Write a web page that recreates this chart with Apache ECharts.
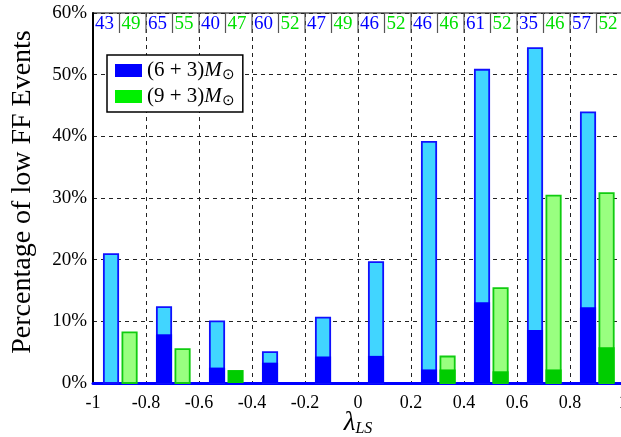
<!DOCTYPE html>
<html>
<head>
<meta charset="utf-8">
<script src="https://cdn.jsdelivr.net/npm/echarts@6/dist/echarts.min.js"></script>
<style>
  html, body { margin: 0; padding: 0; background: #fff; }
  #chart { width: 621px; height: 437px; }
</style>
</head>
<body>
<div id="chart"></div>
<script>
// left edge of each lambda bin
const binStarts = [-1, -0.8, -0.6, -0.4, -0.2, 0, 0.2, 0.4, 0.6, 0.8]
// percentages, full bar (light) and low part (dark)
const blueTotal = [20.9, 12.3, 10.0, 5.0, 10.6, 19.6, 39.1, 50.8, 54.3, 43.9]
const blueDark = [0, 7.9, 2.5, 3.3, 4.3, 4.4, 2.2, 13.1, 8.6, 12.3]
const greenTotal = [8.2, 5.5, 2.1, 0, 0, 0, 4.3, 15.4, 30.4, 30.8]
const greenDark = [0, 0, 2.1, 0, 0, 0, 2.2, 1.9, 2.2, 5.8]
// event counts printed along the top
const blueCounts = [43, 65, 40, 60, 47, 46, 46, 61, 35, 57]
const greenCounts = [49, 55, 47, 52, 49, 52, 46, 52, 46, 52]
const yTicks = [0, 10, 20, 30, 40, 50, 60]

const SERIF = '"Liberation Serif", "Times New Roman", serif'
const BAR_W = 0.054

function barRenderer(light, dark, stroke, offset) {
  return (params, api) => {
    const x = api.value(0) + offset
    const tot = api.value(1)
    const inn = api.value(2)
    const w = api.size([BAR_W, 0])[0]
    const base = api.coord([x, 0])
    const top = api.coord([x, tot])
    const mid = api.coord([x, inn])
    const children = []
    if (tot > inn) {
      children.push({
        type: 'rect',
        shape: { x: base[0] - w / 2, y: top[1], width: w, height: base[1] - top[1] },
        style: { fill: light, stroke: stroke, lineWidth: 1.8 },
      })
    }
    if (inn > 0) {
      children.push({
        type: 'rect',
        shape: { x: base[0] - w / 2 - 0.9, y: mid[1], width: w + 1.8, height: base[1] - mid[1] },
        style: { fill: dark },
      })
    }
    return { type: 'group', children }
  }
}

function countRenderer(params, api) {
  const b = api.value(0)
  const p0 = api.coord([b, 60])
  const pm = api.coord([b + 0.1, 60])
  const font = '19px ' + SERIF
  const children = [
    { type: 'line', shape: { x1: pm[0], y1: p0[1], x2: pm[0], y2: p0[1] + 20 }, style: { stroke: '#555', lineWidth: 1.2 } },
    { type: 'text', x: p0[0] + 2, y: p0[1] + 11, style: { text: String(api.value(1)), fill: '#0000ff', font, verticalAlign: 'middle', align: 'left' } },
    { type: 'text', x: pm[0] + 2, y: p0[1] + 11, style: { text: String(api.value(2)), fill: '#00e000', font, verticalAlign: 'middle', align: 'left' } },
  ]
  if (params.dataIndex > 0) {
    children.push({ type: 'line', shape: { x1: p0[0], y1: p0[1], x2: p0[0], y2: p0[1] + 20 }, style: { stroke: '#555', lineWidth: 1.2 } })
  }
  return { type: 'group', children }
}

const chart = echarts.init(document.getElementById('chart'))

chart.setOption({
  animation: false,
  backgroundColor: '#fff',
  textStyle: { fontFamily: SERIF },
  grid: {
    left: 93, top: 13, width: 530, height: 370,
    outerBoundsMode: 'none', containLabel: false,
    show: true, borderColor: '#000', borderWidth: 1.2,
  },
  legend: {
    left: 107, top: 55,
    orient: 'vertical',
    data: [
      { name: '(6 + 3)M⊙', itemStyle: { color: '#0000ff' } },
      { name: '(9 + 3)M⊙', itemStyle: { color: '#00f000' } },
    ],
    icon: 'rect',
    itemWidth: 27, itemHeight: 13, itemGap: 3,
    padding: [5, 8, 3, 8],
    borderColor: '#000', borderWidth: 1.5, backgroundColor: '#fff',
    selectedMode: false,
    formatter: n => n.replace('M⊙', '{m|M}{s|⊙}'),
    textStyle: {
      fontFamily: SERIF, fontSize: 21, color: '#000',
      rich: {
        m: { fontFamily: SERIF, fontSize: 21, fontStyle: 'italic', color: '#000' },
        s: { fontFamily: SERIF, fontSize: 15, color: '#000', padding: [10, 0, 0, 0] },
      },
    },
  },
  xAxis: {
    type: 'value', min: -1, max: 1, interval: 0.2,
    name: '{l|λ}{s|LS}', nameLocation: 'middle', nameGap: 26, nameMoveOverlap: false,
    nameTextStyle: {
      rich: {
        l: { fontFamily: SERIF, fontSize: 27, fontStyle: 'italic', color: '#000' },
        s: { fontFamily: SERIF, fontSize: 16, fontStyle: 'italic', color: '#000', padding: [12, 0, 0, 0] },
      },
    },
    axisLine: { show: true, lineStyle: { color: '#0000ff', width: 3 } },
    axisTick: { show: false },
    axisLabel: {
      color: '#000', fontSize: 18, fontFamily: SERIF, margin: 11,
      formatter: v => String(Number(v.toFixed(1))),
    },
    splitLine: { show: true, lineStyle: { color: '#222', type: [4, 4], width: 1 } },
  },
  yAxis: {
    type: 'value', min: yTicks[0], max: yTicks[yTicks.length - 1], interval: 10,
    name: 'Percentage of low FF Events', nameLocation: 'middle', nameGap: 56, nameMoveOverlap: false,
    nameTextStyle: { fontFamily: SERIF, fontSize: 28, color: '#000', padding: [0, 0, 0, 12] },
    axisLine: { show: true, onZero: false, lineStyle: { color: '#000', width: 2 } },
    axisTick: { show: false },
    axisLabel: { color: '#000', fontSize: 19, fontFamily: SERIF, margin: 6, formatter: v => v + '%' },
    splitLine: { show: true, lineStyle: { color: '#222', type: [4, 4], width: 1 } },
  },
  series: [
    {
      name: '(6 + 3)M⊙', type: 'custom',
      renderItem: barRenderer('#41d5ff', '#0000ff', '#1010ff', 0.068),
      data: binStarts.map((b, i) => [b, blueTotal[i], blueDark[i]]),
      itemStyle: { color: '#0000ff' },
      z: 3,
    },
    {
      name: '(9 + 3)M⊙', type: 'custom',
      renderItem: barRenderer('#99ff80', '#00cc00', '#10cc10', 0.138),
      data: binStarts.map((b, i) => [b, greenTotal[i], greenDark[i]]),
      itemStyle: { color: '#00f000' },
      z: 3,
    },
    {
      name: 'counts', type: 'custom',
      renderItem: countRenderer,
      data: binStarts.map((b, i) => [b, blueCounts[i], greenCounts[i]]),
      z: 4,
    },
  ],
})
</script>
</body>
</html>
